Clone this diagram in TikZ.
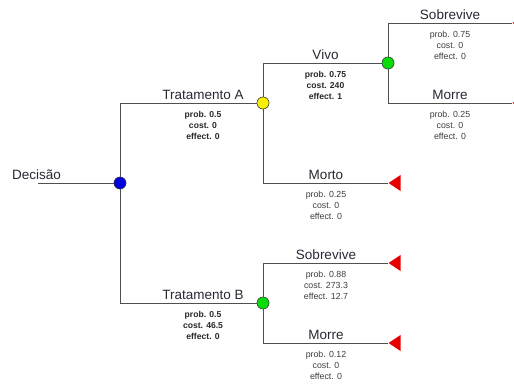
\documentclass[tikz,border=0pt]{standalone}
\usepackage{fontspec}
\setmainfont{Liberation Sans}
\usetikzlibrary{shapes.geometric}
\definecolor{linec}{RGB}{80,80,80}
\definecolor{txtc}{RGB}{40,40,52}
\definecolor{smallc}{RGB}{60,60,60}
\definecolor{nblue}{RGB}{0,0,225}
\definecolor{nyellow}{RGB}{250,240,0}
\definecolor{ngreen}{RGB}{10,220,10}
\definecolor{nred}{RGB}{228,0,0}
\tikzset{
  branch/.style={draw=linec, line width=0.9pt},
  chance/.style={circle, draw=black!75, line width=0.5pt, inner sep=0pt, minimum size=12pt},
  terminal/.style={isosceles triangle, isosceles triangle stretches, shape border rotate=180,
    fill=nred, draw=none, inner sep=0pt, minimum height=12pt, minimum width=16pt, anchor=apex},
  mainlbl/.style={anchor=base, inner sep=0pt, text=txtc, font=\fontsize{13.5}{15}\selectfont},
  infolbl/.style={anchor=north, inner sep=0pt, align=center, text=smallc,
    font=\fontsize{8.8}{11}\selectfont},
  infobold/.style={infolbl, text=black!85, font=\fontsize{8.6}{11}\selectfont\bfseries}
}
\begin{document}
\begin{tikzpicture}[x=1pt, y=-1pt]
\useasboundingbox (0,0) rectangle (514,383);
\clip (0,0) rectangle (514,383);
% nodes
\coordinate (start) at (38,183);
\node[chance, fill=nblue] (d) at (120,183) {};
\node[chance, fill=nyellow] (a) at (263,103) {};
\node[chance, fill=ngreen] (b) at (263,303) {};
\node[chance, fill=ngreen] (v) at (388,63) {};
\node[terminal] (t1) at (512,23) {};
\node[terminal] (t2) at (512,103) {};
\node[terminal] (t3) at (388,183) {};
\node[terminal] (t4) at (388,263) {};
\node[terminal] (t5) at (388,343) {};
% branches
\draw[branch] (start) -- (d);
\draw[branch] (d) |- (a);
\draw[branch] (d) |- (b);
\draw[branch] (a) |- (v);
\draw[branch] (a) |- (t3.apex);
\draw[branch] (v) |- (t1.apex);
\draw[branch] (v) |- (t2.apex);
\draw[branch] (b) |- (t4.apex);
\draw[branch] (b) |- (t5.apex);
% redraw nodes on top
\node[chance, fill=nblue] at (d) {};
\node[chance, fill=nyellow] at (a) {};
\node[chance, fill=ngreen] at (b) {};
\node[chance, fill=ngreen] at (v) {};
% labels
\node[mainlbl, anchor=base west] (ldec) at (12,179.5) {Decisão};
\node[mainlbl] (la) at (203,99.5) {Tratamento A};
\node[infobold] (ia) at (203,111) {prob. 0.5\\cost. 0\\effect. 0};
\node[mainlbl] (lb) at (203,299.5) {Tratamento B};
\node[infobold] (ib) at (203,311) {prob. 0.5\\cost. 46.5\\effect. 0};
\node[mainlbl] (lv) at (325.5,59.5) {Vivo};
\node[infobold] (iv) at (325.5,71) {prob. 0.75\\cost. 240\\effect. 1};
\node[mainlbl] (lm) at (326,179.5) {Morto};
\node[infolbl] (im) at (326,191) {prob. 0.25\\cost. 0\\effect. 0};
\node[mainlbl] (ls1) at (450,19.5) {Sobrevive};
\node[infolbl] (is1) at (450,31) {prob. 0.75\\cost. 0\\effect. 0};
\node[mainlbl] (lm1) at (450,99.5) {Morre};
\node[infolbl] (im1) at (450,111) {prob. 0.25\\cost. 0\\effect. 0};
\node[mainlbl] (ls2) at (326,259.5) {Sobrevive};
\node[infolbl] (is2) at (326,271) {prob. 0.88\\cost. 273.3\\effect. 12.7};
\node[mainlbl] (lm2) at (326,339.5) {Morre};
\node[infolbl] (im2) at (326,351) {prob. 0.12\\cost. 0\\effect. 0};
\end{tikzpicture}
\end{document}
